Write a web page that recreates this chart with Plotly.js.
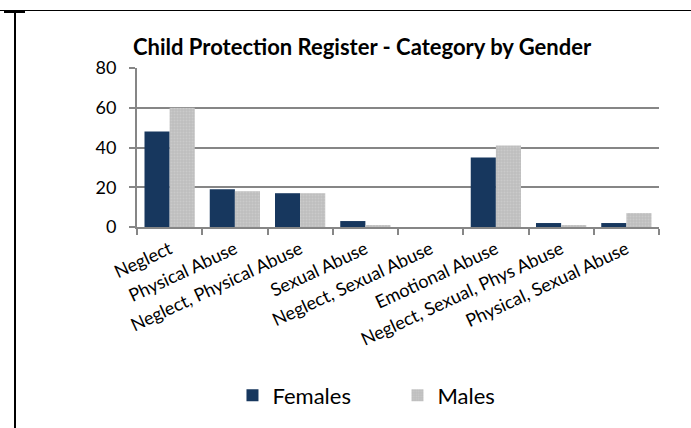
<!DOCTYPE html>
<html>
<head>
<meta charset="utf-8">
<script src="https://cdn.plot.ly/plotly-3.0.1.min.js"></script>
<style>
  html, body { margin:0; padding:0; background:#fff; }
  #wrap { position:relative; width:691px; height:428px; overflow:hidden; }
  #chart { position:absolute; left:0; top:0; width:691px; height:428px; }
  .ln { position:absolute; background:#000; }
</style>
</head>
<body>
<div id="wrap">
  <div id="chart"></div>
  <div class="ln" style="left:0; top:10px; width:691px; height:1px;"></div>
  <div class="ln" style="left:4px; top:11px; width:21px; height:2px;"></div>
  <div class="ln" style="left:14px; top:10px; width:2px; height:418px;"></div>
</div>
<script>
const categories = ["Neglect", "Physical Abuse", "Neglect, Physical Abuse", "Sexual Abuse",
  "Neglect, Sexual Abuse", "Emotional Abuse", "Neglect, Sexual, Phys Abuse", "Physical, Sexual Abuse"];
const females = [48, 19, 17, 3, 0, 35, 2, 2];
const males = [60, 18, 17, 1, 0, 41, 1, 7];
const yTicks = [0, 20, 40, 60, 80];
const titleText = "Child Protection Register - Category by Gender";

const FONT = "Lato, Open Sans, sans-serif";

const data = [
  { type: "bar", name: "Females", x: categories, y: females,
    marker: { color: "#17375E", line: { width: 0 } } },
  { type: "bar", name: "Males", x: categories, y: males,
    marker: { color: "#BFBFBF", line: { width: 0 },
      pattern: { shape: ".", bgcolor: "#BFBFBF", fgcolor: "#CACACA", size: 3, solidity: 0.3 } } }
];

const layout = {
  width: 691, height: 428,
  margin: { l: 137, r: 32, t: 68, b: 201 },
  paper_bgcolor: "#fff", plot_bgcolor: "#fff",
  font: { family: FONT, size: 16, color: "#000" },
  title: { text: "<b>" + titleText + "</b>", font: { family: FONT, size: 22, color: "#000" },
    x: 0.524, xanchor: "center", xref: "container", y: 0.89, yanchor: "middle", yref: "container" },
  bargap: 0.23, bargroupgap: 0,
  barmode: "group",
  showlegend: true,
  legend: { orientation: "h", x: 0.499, xanchor: "center", y: -1.06, yanchor: "middle",
    font: { family: FONT, size: 22, color: "#000" },
    entrywidth: 120, entrywidthmode: "pixels", itemwidth: 30, traceorder: "normal" },
  xaxis: {
    type: "category",
    tickangle: -25,
    ticks: "outside", ticklen: 6, tickwidth: 2, tickcolor: "#868686",
    tickson: "boundaries",
    showline: true, linecolor: "#868686", linewidth: 2,
    showgrid: false, zeroline: false,
    tickfont: { family: FONT, size: 18, color: "#000" },
    ticklabelstandoff: 3
  },
  yaxis: {
    range: [0, 80], tickvals: yTicks, ticktext: yTicks.map(String),
    ticks: "outside", ticklen: 6, tickwidth: 2, tickcolor: "#868686",
    showline: true, linecolor: "#868686", linewidth: 2,
    showgrid: true, gridcolor: "#868686", gridwidth: 2,
    zeroline: false,
    tickfont: { family: FONT, size: 18, color: "#000" },
    ticklabelstandoff: 9
  }
};

Plotly.newPlot("chart", data, layout, { displayModeBar: false, staticPlot: true });
</script>
</body>
</html>
